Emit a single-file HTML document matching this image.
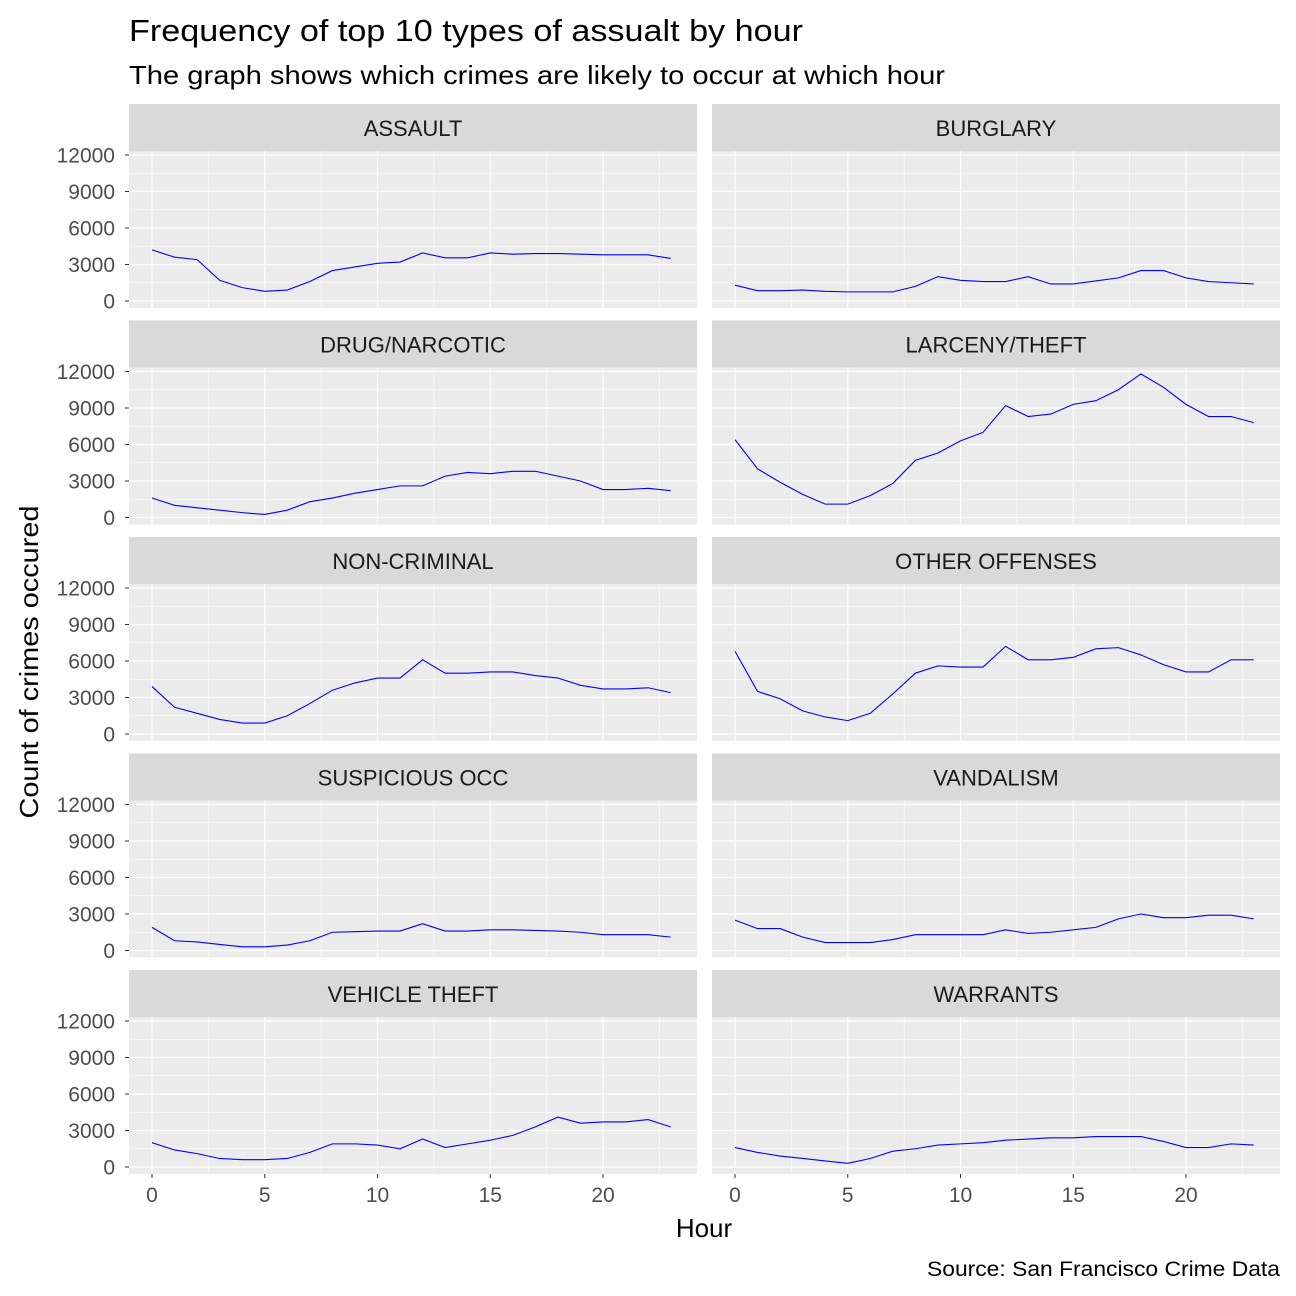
<!DOCTYPE html>
<html><head><meta charset="utf-8"><style>
body{margin:0;background:#fff;}
svg{display:block;font-family:"Liberation Sans",Arial,sans-serif;}
</style></head><body>
<svg id="chart" width="1296" height="1296" viewBox="0 0 1296 1296">
<rect width="1296" height="1296" fill="#fff"/>
<text x="129" y="41" font-size="31" textLength="674" lengthAdjust="spacingAndGlyphs" fill="#000">Frequency of top 10 types of assualt by hour</text>
<text x="129" y="84" font-size="26" textLength="816" lengthAdjust="spacingAndGlyphs" fill="#000">The graph shows which crimes are likely to occur at which hour</text>
<text transform="translate(38,662) rotate(-90)" text-anchor="middle" font-size="26" textLength="313" lengthAdjust="spacingAndGlyphs" fill="#000">Count of crimes occured</text>
<text x="704" y="1237" text-anchor="middle" font-size="26" fill="#000">Hour</text>
<text x="1280" y="1276" text-anchor="end" font-size="21" textLength="353" lengthAdjust="spacingAndGlyphs" fill="#000">Source: San Francisco Crime Data</text>
<g id="panels"></g>
</svg>
<script>
const categories = ["ASSAULT","BURGLARY","DRUG/NARCOTIC","LARCENY/THEFT","NON-CRIMINAL","OTHER OFFENSES","SUSPICIOUS OCC","VANDALISM","VEHICLE THEFT","WARRANTS"];
const hours = [0,1,2,3,4,5,6,7,8,9,10,11,12,13,14,15,16,17,18,19,20,21,22,23];
const assault = [4200,3600,3400,1700,1100,800,900,1600,2500,2800,3100,3200,3950,3550,3550,3950,3850,3900,3900,3850,3800,3800,3800,3500];
const burglary = [1300,850,850,900,800,750,750,750,1200,2000,1700,1600,1600,2000,1400,1400,1650,1900,2500,2500,1900,1600,1500,1400];
const drug = [1600,1000,800,600,400,250,600,1300,1600,2000,2300,2600,2600,3400,3700,3600,3800,3800,3400,3000,2300,2300,2400,2200];
const larceny = [6400,4000,2900,1900,1100,1100,1800,2800,4700,5300,6300,7000,9200,8300,8500,9300,9600,10500,11800,10700,9300,8300,8300,7800];
const noncriminal = [3900,2200,1700,1200,900,900,1500,2500,3600,4200,4600,4600,6100,5000,5000,5100,5100,4800,4600,4000,3700,3700,3800,3400];
const other = [6800,3500,2900,1900,1400,1100,1700,3300,5000,5600,5500,5500,7200,6100,6100,6300,7000,7100,6500,5700,5100,5100,6100,6100];
const suspicious = [1900,800,700,500,300,300,450,800,1500,1550,1600,1600,2200,1600,1600,1700,1700,1650,1600,1500,1300,1300,1300,1100];
const vandalism = [2500,1800,1800,1100,650,650,650,900,1300,1300,1300,1300,1700,1400,1500,1700,1900,2600,3000,2700,2700,2900,2900,2600];
const vehicle = [2000,1400,1100,700,600,600,700,1200,1900,1900,1800,1500,2300,1600,1900,2200,2600,3300,4100,3600,3700,3700,3900,3300];
const warrants = [1600,1200,900,700,500,300,700,1300,1500,1800,1900,2000,2200,2300,2400,2400,2500,2500,2500,2100,1600,1600,1900,1800];
const seriesList = [assault,burglary,drug,larceny,noncriminal,other,suspicious,vandalism,vehicle,warrants];
const yTicks = [0,3000,6000,9000,12000];
const yMinor = [1500,4500,7500,10500];
const xTicks = [0,5,10,15,20];
const xMinor = [2.5,7.5,12.5,17.5,22.5];

const NS="http://www.w3.org/2000/svg";
const root=document.getElementById('panels');
function mk(tag,attrs,parent){const e=document.createElementNS(NS,tag);for(const k in attrs)e.setAttribute(k,attrs[k]);(parent||root).appendChild(e);return e;}
const colX=[129,712], panelW=568, stripH=47, panelH=157;
function xs(col,h){return colX[col]+23+h*22.55;}
function ys(row,v){const top=104+row*216.5+stripH;return top+150-v*146/12000;}

categories.forEach((cat,i)=>{
  const row=Math.floor(i/2), col=i%2;
  const sTop=104+row*216.5, pTop=sTop+stripH, left=colX[col];
  const g=mk('g',{});
  
  
  const strip=mk('rect',{x:left,y:sTop,width:panelW,height:stripH,fill:'#D9D9D9'},g);
  
  
  const st=mk('text',{x:left+panelW/2,y:sTop+32,'text-anchor':'middle','font-size':'22',fill:'#1A1A1A'},g);
  st.textContent=cat;
  
  
  mk('rect',{x:left,y:pTop,width:panelW,height:panelH,fill:'#EBEBEB'},g);
  yMinor.forEach(v=>mk('line',{x1:left,x2:left+panelW,y1:ys(row,v),y2:ys(row,v),stroke:'#fff','stroke-width':0.6},g));
  xMinor.forEach(h=>mk('line',{x1:xs(col,h),x2:xs(col,h),y1:pTop,y2:pTop+panelH,stroke:'#fff','stroke-width':0.6},g));
  yTicks.forEach(v=>mk('line',{x1:left,x2:left+panelW,y1:ys(row,v),y2:ys(row,v),stroke:'#fff','stroke-width':1.2},g));
  xTicks.forEach(h=>mk('line',{x1:xs(col,h),x2:xs(col,h),y1:pTop,y2:pTop+panelH,stroke:'#fff','stroke-width':1.2},g));
  const d=seriesList[i].map((v,k)=>(k?'L':'M')+xs(col,hours[k]).toFixed(2)+','+ys(row,v).toFixed(2)).join('');
  const p=mk('path',{d:d,fill:'none',stroke:'#0000FF','stroke-width':1.1},g);
  
  
  if(col===0){
    yTicks.forEach(v=>{
      mk('line',{x1:left-4,x2:left,y1:ys(row,v),y2:ys(row,v),stroke:'#333','stroke-width':1},g);
      const t=mk('text',{x:left-14,y:ys(row,v)+7.5,'text-anchor':'end','font-size':'21',fill:'#4D4D4D'},g);
      t.textContent=v;
      
      
    });
  }
  if(row===4){
    xTicks.forEach(h=>{
      mk('line',{x1:xs(col,h),x2:xs(col,h),y1:pTop+panelH,y2:pTop+panelH+4,stroke:'#333','stroke-width':1},g);
      const t=mk('text',{x:xs(col,h),y:pTop+panelH+28,'text-anchor':'middle','font-size':'21',fill:'#4D4D4D'},g);
      t.textContent=h;
      
      
    });
  }
});
</script>
</body></html>
